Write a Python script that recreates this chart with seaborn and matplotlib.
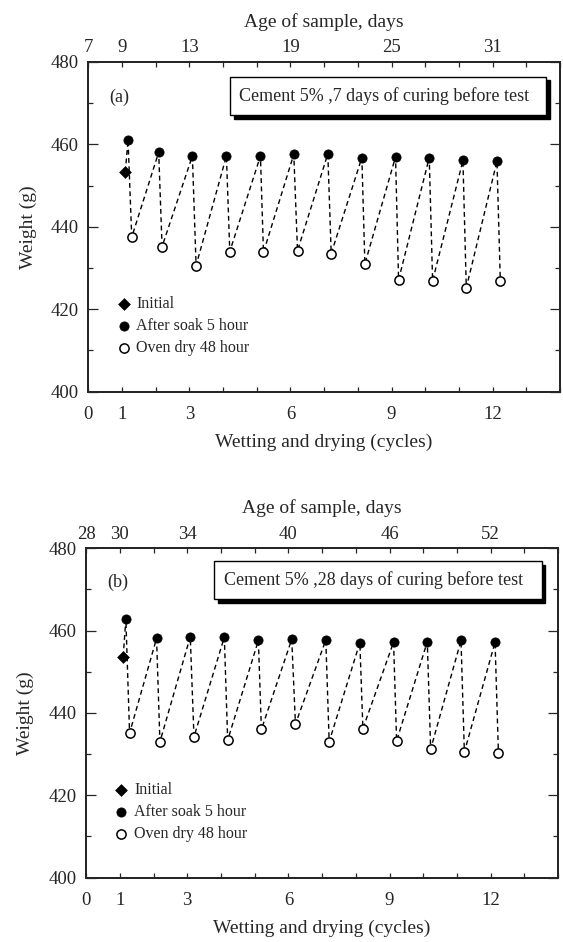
import seaborn as sns
import pandas as pd
import matplotlib.pyplot as plt
from matplotlib.patches import Rectangle
from matplotlib.ticker import MultipleLocator

# cycle positions of the markers
x_initial = 1.10
x_soak = [1.18, 2.09, 3.09, 4.10, 5.11, 6.10, 7.11, 8.12, 9.12, 10.12, 11.12, 12.13]
x_dry = [1.29, 2.19, 3.20, 4.20, 5.20, 6.21, 7.21, 8.21, 9.21, 10.22, 11.22, 12.23]

# (a) 7 days of curing
init_a = 453.4
soak_a = [461.1, 458.1, 457.2, 457.2, 457.2, 457.6, 457.7, 456.8, 457.0, 456.8, 456.1, 455.9]
dry_a = [437.5, 435.2, 430.6, 434.0, 433.8, 434.2, 433.5, 431.0, 427.1, 426.9, 425.2, 426.8]

# (b) 28 days of curing
init_b = 453.7
soak_b = [462.8, 458.1, 458.5, 458.4, 457.6, 457.9, 457.7, 457.1, 457.2, 457.3, 457.6, 457.2]
dry_b = [435.1, 433.0, 434.2, 433.4, 436.0, 437.3, 433.0, 436.2, 433.2, 431.2, 430.5, 430.2]

cycle_ticks = [0, 1, 3, 6, 9, 12]
cycle_labels = ["0", "1", "3", "6", "9", "12"]
age_labels_a = ["7", "9", "13", "19", "25", "31"]
age_labels_b = ["28", "30", "34", "40", "46", "52"]
notes = ["Cement 5% ,7 days of curing before test",
         "Cement 5% ,28 days of curing before test"]
panel_tags = ["(a)", "(b)"]

sns.set_style("ticks")
plt.rcParams["font.family"] = ["Liberation Serif", "DejaVu Serif"]
plt.rcParams["axes.linewidth"] = 1.4


def path_frame(init, soak, dry):
    xs, ys = [x_initial], [init]
    for xs_, s, xd, d in zip(x_soak, soak, x_dry, dry):
        xs += [xs_, xd]
        ys += [s, d]
    return pd.DataFrame({"cycle": xs, "weight": ys})


def label_list(labels):
    out = []
    for i in range(15):
        out.append(labels[cycle_ticks.index(i)] if i in cycle_ticks else "")
    return out


def draw_panel(ax, init, soak, dry, ages, note, tag, box):
    df = path_frame(init, soak, dry)
    sns.lineplot(data=df, x="cycle", y="weight", sort=False, estimator=None,
                 color="k", lw=1.0, linestyle=(0, (3.5, 2.5)), ax=ax, zorder=2)
    sns.scatterplot(x=[x_initial], y=[init], marker="D", s=36, color="k",
                    edgecolor="k", ax=ax, zorder=3, label="Initial")
    sns.scatterplot(x=x_soak, y=soak, marker="o", s=44, color="k",
                    edgecolor="k", ax=ax, zorder=3, label="After soak 5 hour")
    sns.scatterplot(x=x_dry, y=dry, marker="o", s=44, color="white",
                    edgecolor="k", linewidth=1.1, ax=ax, zorder=3,
                    label="Oven dry 48 hour")

    ax.set_xlim(0, 14)
    ax.set_ylim(400, 480)
    ax.set_xticks(range(15), labels=label_list(cycle_labels))
    ax.xaxis.set_minor_locator(plt.FixedLocator([5, 10]))
    ax.set_yticks([400, 420, 440, 460, 480])
    ax.yaxis.set_minor_locator(MultipleLocator(10))
    ax.tick_params(axis="x", which="major", direction="in", length=3.6, width=0.9,
                   top=False, labelsize=13.5, pad=10)
    ax.tick_params(axis="x", which="minor", direction="in", length=7.2, width=0.9, top=False)
    ax.tick_params(axis="y", which="major", direction="in", length=7.2, width=0.9,
                   right=True, labelsize=13.5, pad=7)
    ax.tick_params(axis="y", which="minor", direction="in", length=3.6, width=0.9, right=True)
    ax.set_xlabel("Wetting and drying (cycles)", fontsize=14, labelpad=8)
    ax.set_ylabel("Weight (g)", fontsize=14, labelpad=10)

    top = ax.twiny()
    top.set_xlim(0, 14)
    top.set_xticks(range(15), labels=label_list(ages))
    top.xaxis.set_minor_locator(plt.FixedLocator([5, 10]))
    top.tick_params(axis="x", which="major", direction="in", length=3.6, width=0.9,
                    labelsize=13.5, pad=4)
    top.tick_params(axis="x", which="minor", direction="in", length=7.2, width=0.9)
    top.set_xlabel("Age of sample, days", fontsize=14, labelpad=9)
    for sp in top.spines.values():
        sp.set_linewidth(1.4)

    # note box with a drop shadow
    x0, y0, x1, y1 = box
    ax.add_patch(Rectangle((x0 + 0.008, y0 - 0.011), x1 - x0, y1 - y0,
                           transform=ax.transAxes, facecolor="k", edgecolor="k",
                           clip_on=False, zorder=4))
    ax.add_patch(Rectangle((x0, y0), x1 - x0, y1 - y0, transform=ax.transAxes,
                           facecolor="white", edgecolor="k", lw=1.0,
                           clip_on=False, zorder=5))
    ax.text(x0 + 0.02, (y0 + y1) / 2, note, transform=ax.transAxes, fontsize=13,
            va="center", ha="left", zorder=6)
    ax.text(0.045, (y0 + y1) / 2 - 0.005, tag, transform=ax.transAxes, fontsize=13,
            va="center", ha="left")

    ax.legend(frameon=False, loc="center left", bbox_to_anchor=(0.058, 0.199),
              fontsize=11.5, handlelength=1.0, handletextpad=0.3,
              labelspacing=0.38, borderpad=0, borderaxespad=0)


fig = plt.figure(figsize=(5.63, 9.42), dpi=100)
ax_a = fig.add_axes([0.1568, 0.5842, 0.8378, 0.3500])
ax_b = fig.add_axes([0.1529, 0.0683, 0.8384, 0.3497])

draw_panel(ax_a, init_a, soak_a, dry_a, age_labels_a, notes[0], panel_tags[0],
           (0.300, 0.839, 0.970, 0.955))
draw_panel(ax_b, init_b, soak_b, dry_b, age_labels_b, notes[1], panel_tags[1],
           (0.272, 0.845, 0.965, 0.961))

plt.savefig("out.png", dpi=100)
